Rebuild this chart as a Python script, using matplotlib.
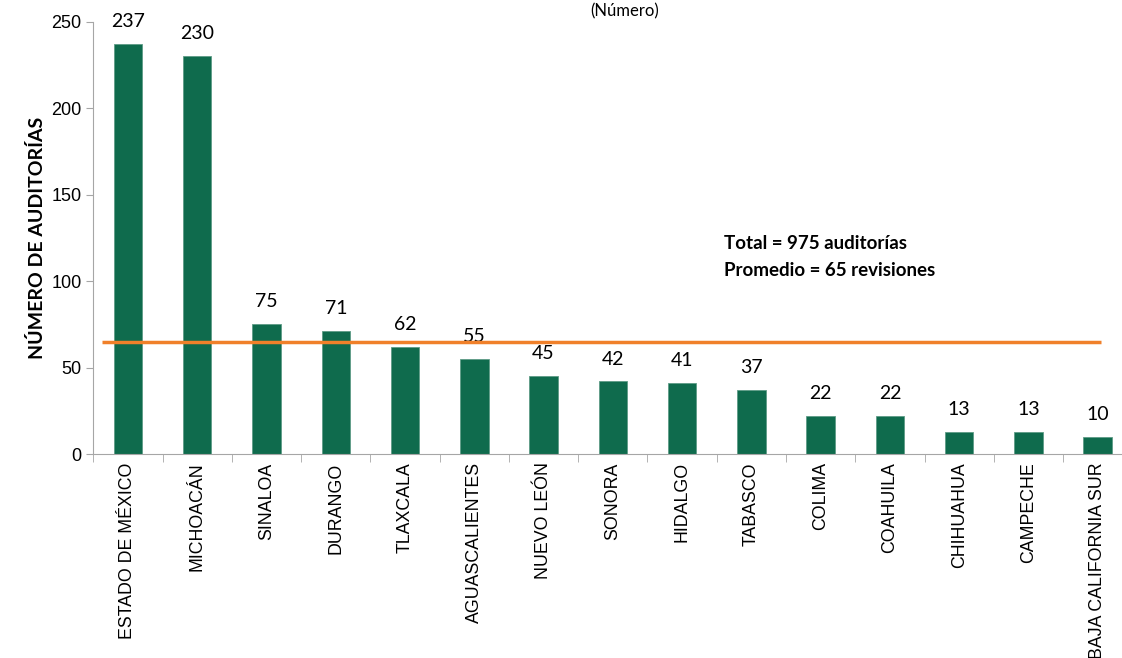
import numpy as np
import matplotlib.pyplot as plt

estados = ['ESTADO DE MÉXICO', 'MICHOACÁN', 'SINALOA', 'DURANGO', 'TLAXCALA',
           'AGUASCALIENTES', 'NUEVO LEÓN', 'SONORA', 'HIDALGO', 'TABASCO',
           'COLIMA', 'COAHUILA', 'CHIHUAHUA', 'CAMPECHE', 'BAJA CALIFORNIA SUR']
auditorias = [237, 230, 75, 71, 62, 55, 45, 42, 41, 37, 22, 22, 13, 13, 10]
promedio = 65
total = 975

verde = '#0F6B4D'
naranja = '#F0802A'
gris = '#A6A6A6'

fig = plt.figure(figsize=(11.22, 6.58), dpi=100)
ax = fig.add_axes([0.0832, 0.31, 0.926, 0.657])

x = np.arange(len(estados))
ax.bar(x, auditorias, width=0.41, color=verde, edgecolor='#5E9C86', linewidth=0.6, zorder=2)

# etiquetas de datos
for xi, v in zip(x, auditorias):
    ax.text(xi, v + 8, str(v), ha='center', va='bottom', fontsize=14, family='Lato')

# linea del promedio
ax.hlines(promedio, -0.38, len(estados) - 0.95, color=naranja, linewidth=2.5, zorder=3)

ax.text(8.6, 122, 'Total = %d auditorías' % total, fontsize=13.5, fontweight='bold',
        family='Lato', va='center')
ax.text(8.6, 106, 'Promedio = %d revisiones' % promedio, fontsize=13.5, fontweight='bold',
        family='Lato', va='center')

ax.set_xlim(-0.5, len(estados) - 0.5)
ax.set_ylim(0, 250)
ax.set_yticks(np.arange(0, 251, 50))
ax.tick_params(axis='y', labelsize=13, colors='black', length=5, color=gris)
ax.set_xticks(x)
ax.set_xticklabels(estados, rotation=90, fontsize=12.8, family='Liberation Sans')
ax.set_xticks(np.arange(-0.5, len(estados), 1), minor=True)
ax.tick_params(axis='x', which='major', length=0, pad=6)
ax.tick_params(axis='x', which='minor', length=6, color=gris)
for lbl in ax.get_yticklabels():
    lbl.set_family('Liberation Sans')

for s in ['top', 'right']:
    ax.spines[s].set_visible(False)
ax.spines['left'].set_color(gris)
ax.spines['bottom'].set_color(gris)

ax.set_ylabel('NÚMERO DE AUDITORÍAS', fontsize=14, fontweight='bold', family='Lato', labelpad=4)

fig.text(0.557, 0.982, '(Número)', ha='center', va='center', fontsize=12, family='Lato')

fig.savefig('out.png', dpi=100)
